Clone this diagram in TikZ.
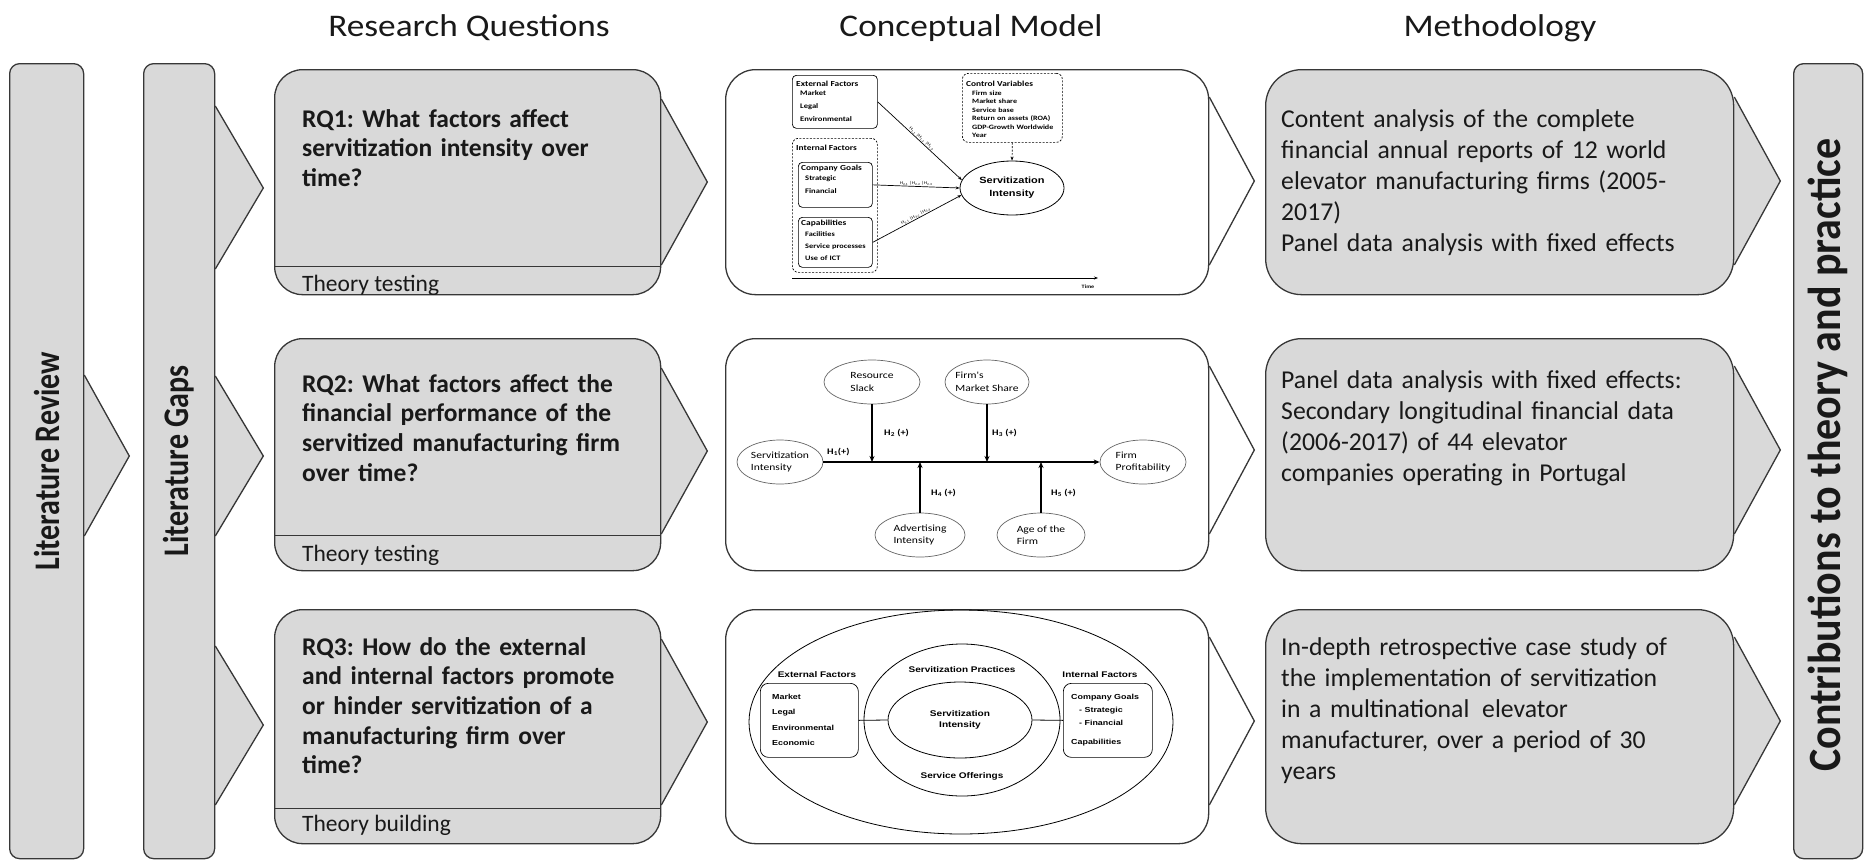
\documentclass[tikz,border=0pt]{standalone}
\usepackage{fontspec}
\usepackage{graphicx}
\setmainfont{Carlito}
\newfontfamily\calS[FakeStretch=1.22]{Carlito}
\newfontfamily\calH[FakeStretch=1.12]{Carlito}
\newfontfamily\calP{Carlito}
\newfontfamily\arS[FakeStretch=1.22]{Liberation Sans}
\usetikzlibrary{shapes.geometric,arrows.meta,calc,backgrounds}
\frenchspacing
\definecolor{boxgray}{RGB}{217,217,217}
\definecolor{edgec}{RGB}{55,55,55}
\definecolor{txt}{RGB}{25,25,25}
\newcommand\fHdr{\calH\fontsize{31.5}{36}\selectfont}
\newcommand\fRQ{\calP\bfseries\fontsize{25.5}{29.7}\selectfont}
\newcommand\fBody{\calP\fontsize{25.7}{31}\selectfont}
\newcommand\fTh{\calP\fontsize{23.5}{28}\selectfont}
\newcommand\fSide{\calP\bfseries\fontsize{30}{36}\selectfont}
\newcommand\fCon{\calP\bfseries\fontsize{42}{50}\selectfont}
\newcommand\fMt{\calS\bfseries\fontsize{7.7}{13}\selectfont}
\newcommand\fMi{\calS\bfseries\fontsize{7}{13}\selectfont}
\newcommand\fTt{\arS\bfseries\fontsize{8.2}{10}\selectfont}
\newcommand\fTi{\arS\bfseries\fontsize{7.3}{15.3}\selectfont}
\tikzset{
  bigbox/.style={draw=edgec, line width=1.3pt, inner sep=0pt, anchor=north west},
  graybox/.style={bigbox, fill=boxgray},
  whitebox/.style={bigbox, fill=white},
  chev/.style={draw=edgec, line width=1.3pt, fill=boxgray, line join=miter},
  wchev/.style={chev, fill=white},
  divline/.style={draw=edgec, line width=1.3pt},
  tx/.style={inner sep=0pt, text=txt},
  ml/.style={tx, anchor=base west, align=left},
  sbox/.style={draw=black, line width=0.7pt, rounded corners=4pt, inner sep=0pt, anchor=north west},
  dbox/.style={sbox, dash pattern=on 2pt off 1.5pt},
  sml/.style={inner sep=0pt, anchor=base west, align=left, text=black},
  sarr/.style={draw=black, line width=0.7pt, -{Stealth[length=4pt,width=3pt]}},
  thinl/.style={draw=black, line width=0.8pt},
  ell/.style={ellipse, draw=black, line width=0.8pt, inner sep=0pt},
  ell2/.style={ellipse, draw=black!60, line width=0.7pt, fill=white, inner xsep=-12pt, inner ysep=-3pt, minimum height=44pt, align=left, font=\calS\fontsize{9.5}{12.5}\selectfont},
  barr/.style={draw=black, line width=1.4pt, -{Stealth[length=6pt,width=5pt]}},
  hlab/.style={inner sep=0pt, anchor=west, font=\calS\bfseries\fontsize{8.5}{10}\selectfont},
  mlab/.style={inner sep=0.5pt, font=\calS\fontsize{4.3}{5}\selectfont},
}
\begin{document}
\begin{tikzpicture}[x=1pt,y=-1pt]
\useasboundingbox (0,0) rectangle (1865,862);
% ---------------- headers
\node[tx, anchor=base, font=\fHdr] (h1) at (469,36) {Research Questions};
\node[tx, anchor=base, font=\fHdr] (h2) at (971,36) {Conceptual Model};
\node[tx, anchor=base, font=\fHdr] (h3) at (1500,36) {Methodology};

% ---------------- tall side boxes
\node[graybox, rounded corners=10pt, minimum width=74pt, minimum height=795pt] (lr) at (9,63) {};
\node[graybox, rounded corners=10pt, minimum width=71pt, minimum height=795pt] (lg) at (143,63) {};
\node[graybox, rounded corners=10pt, minimum width=69pt, minimum height=795pt] (con) at (1793,63) {};
\node[tx, rotate=90, font=\fSide] (lrt) at (lr.center) {\scalebox{1}[1.2]{Literature Review}};
\node[tx, rotate=90, font=\fSide] (lgt) at (lg.center) {\scalebox{1}[1.2]{Literature Gaps}};
\node[tx, rotate=90, font=\fCon] (cont) at ($(con.center)+(0,-6)$) {\scalebox{1}[1.1]{Contributions to theory and practice}};

% ---------------- row boxes
\node[graybox, rounded corners=28pt, minimum width=386pt, minimum height=225pt] (rq1) at (274,69) {};
\node[graybox, rounded corners=28pt, minimum width=386pt, minimum height=232pt] (rq2) at (274,338) {};
\node[graybox, rounded corners=28pt, minimum width=386pt, minimum height=234pt] (rq3) at (274,609) {};
\node[whitebox, rounded corners=30pt, minimum width=483pt, minimum height=225pt] (mo1) at (725,69) {};
\node[whitebox, rounded corners=30pt, minimum width=483pt, minimum height=232pt] (mo2) at (725,338) {};
\node[whitebox, rounded corners=30pt, minimum width=483pt, minimum height=234pt] (mo3) at (725,609) {};
\node[graybox, rounded corners=36pt, minimum width=468pt, minimum height=225pt] (me1) at (1265,69) {};
\node[graybox, rounded corners=36pt, minimum width=468pt, minimum height=232pt] (me2) at (1265,338) {};
\node[graybox, rounded corners=36pt, minimum width=468pt, minimum height=234pt] (me3) at (1265,609) {};

% dividers in RQ boxes
\draw[divline] ($(rq1.south west)+(0,-29)$) -- ($(rq1.south east)+(0,-29)$);
\draw[divline] ($(rq2.south west)+(0,-36)$) -- ($(rq2.south east)+(0,-36)$);
\draw[divline] ($(rq3.south west)+(0,-36)$) -- ($(rq3.south east)+(0,-36)$);

% ---------------- chevrons
\begin{scope}[on background layer]
\filldraw[chev] ($(lr.north east)+(0,312)$) -- ($(lr.north east)+(45,393)$) -- ($(lr.north east)+(0,473)$);
\filldraw[chev] ($(lg.north east)+(0,43)$) -- ($(lg.north east)+(48,125)$) -- ($(lg.north east)+(0,206)$);
\filldraw[chev] ($(lg.north east)+(0,313)$) -- ($(lg.north east)+(48,393)$) -- ($(lg.north east)+(0,473)$);
\filldraw[chev] ($(lg.north east)+(0,583)$) -- ($(lg.north east)+(48,662)$) -- ($(lg.north east)+(0,742)$);
\foreach \n in {rq1,rq2,rq3}{
  \filldraw[chev] ($(\n.north east)+(0,30)$) -- ($(\n.north east)+(46,113)$) -- ($(\n.north east)+(0,196)$);
}
\foreach \n in {mo1,mo2,mo3}{
  \filldraw[wchev] ($(\n.north east)+(0,28)$) -- ($(\n.north east)+(45,112)$) -- ($(\n.north east)+(0,196)$);
}
\foreach \n in {me1,me2,me3}{
  \filldraw[chev] ($(\n.north east)+(0,28)$) -- ($(\n.north east)+(46,112)$) -- ($(\n.north east)+(0,196)$);
}
\end{scope}

% ---------------- RQ texts
\node[ml, text width=370pt, font=\fRQ] (rq1t) at (302,127) {RQ1: What factors affect\\servitization intensity over\\time?};
\node[ml, text width=370pt, font=\fRQ] (rq2t) at (302,392) {RQ2: What factors affect the\\financial performance of the\\servitized manufacturing firm\\over time?};
\node[ml, text width=370pt, font=\fRQ] (rq3t) at (302,655) {RQ3: How do the external\\and internal factors promote\\or hinder servitization of a\\manufacturing firm over\\time?};
\node[ml, font=\fTh] (rq1b) at (302,291) {Theory testing};
\node[ml, font=\fTh] (rq2b) at (302,561) {Theory testing};
\node[ml, font=\fTh] (rq3b) at (302,831) {Theory building};

% ---------------- Methodology texts
\node[ml, text width=450pt, font=\fBody] (me1t) at (1281,127) {Content analysis of the complete\\financial annual reports of 12 world\\elevator manufacturing firms (2005-\\2017)\\Panel data analysis with fixed effects};
\node[ml, text width=450pt, font=\fBody] (me2t) at (1281,388) {Panel data analysis with fixed effects:\\Secondary longitudinal financial data\\(2006-2017) of 44 elevator\\companies operating in Portugal};
\node[ml, text width=450pt, font=\fBody] (me3t) at (1281,655) {In-depth retrospective case study of\\the implementation of servitization\\in a multinational\, elevator\\manufacturer, over a period of 30\\years};

% ---------------- Conceptual model 1
\node[sbox, minimum width=85pt, minimum height=53pt] (ext1) at (792,75) {};
\node[dbox, rounded corners=6pt, minimum width=85pt, minimum height=134pt] (int1) at (792,138) {};
\node[sbox, minimum width=74pt, minimum height=45pt] (goal1) at (798,162) {};
\node[sbox, minimum width=74pt, minimum height=50pt] (cap1) at (798,217) {};
\node[dbox, rounded corners=6pt, minimum width=100pt, minimum height=69pt] (ctrl1) at (962,73) {};
\node[ell, minimum width=104pt, minimum height=54pt, align=center, font=\arS\bfseries\fontsize{9}{13}\selectfont] (si1) at (1012,188) {Servitization\\Intensity};

\node[sml, text width=80pt, font=\fMi] (ext1t) at (796,86.5) {{\fMt External Factors}\\[-4pt]\hspace*{4pt}Market\\\hspace*{4pt}Legal\\\hspace*{4pt}Environmental};
\node[sml, font=\fMt] (int1t) at (796,150.5) {Internal Factors};
\node[sml, text width=70pt, font=\fMi] (goal1t) at (801,170.5) {{\fMt Company Goals}\\[-3pt]\hspace*{4pt}Strategic\\\hspace*{4pt}Financial};
\node[sml, text width=70pt, font=\calS\bfseries\fontsize{6.8}{12}\selectfont] (cap1t) at (801,225.5) {{\fMt Capabilities}\\[-1pt]\hspace*{4pt}Facilities\\\hspace*{4pt}Service processes\\\hspace*{4pt}Use of ICT};
\node[sml, text width=96pt, font=\calS\bfseries\fontsize{6.6}{8.5}\selectfont] (ctrl1t) at (966,86.5) {{\fMt Control Variables}\\\hspace*{6pt}Firm size\\\hspace*{6pt}Market share\\\hspace*{6pt}Service base\\\hspace*{6pt}Return on assets (ROA)\\\hspace*{6pt}GDP-Growth Worldwide\\\hspace*{6pt}Year};

\draw[sarr] (ext1.east) -- node[mlab, sloped, above] {H\textsubscript{1.1} |H\textsubscript{1.2} |H\textsubscript{1.3}} (si1.171);
\draw[sarr] (goal1.east) -- node[mlab, above] {H\textsubscript{2.1} |H\textsubscript{2.2} |H\textsubscript{2.3}} (si1.180);
\draw[sarr] (cap1.east) -- node[mlab, sloped, above] {H\textsubscript{3.1} |H\textsubscript{3.2} |H\textsubscript{3.3}} (si1.188);
\draw[sarr, dash pattern=on 2pt off 1.5pt] (ctrl1.south) -- (si1.north);
\coordinate (t0) at (792,278);
\coordinate (t1) at (1098,278);
\draw[sarr] (t0) -- (t1);
\node[inner sep=0pt, font=\calS\bfseries\fontsize{5}{6}\selectfont] (time1) at (1088,287) {Time};

% ---------------- Conceptual model 2
\node[ell2, minimum width=86pt] (si2) at (780,462) {Servitization\\Intensity};
\node[ell2, minimum width=86pt] (fp2) at (1143,462) {Firm\\Profitability};
\node[ell2, minimum width=96pt] (rs2) at (872,382) {Resource\\Slack};
\node[ell2, minimum width=84pt] (ms2) at (987,382) {Firm's\\Market Share};
\node[ell2, minimum width=90pt] (ai2) at (920,535) {Advertising\\Intensity};
\node[ell2, minimum width=88pt] (af2) at (1041,535) {Age of the\\Firm};
\draw[barr] (si2.east) -- (fp2.west);
\draw[barr] (rs2.south) -- (rs2.south |- si2.east);
\draw[barr] (ms2.south) -- (ms2.south |- si2.east);
\draw[barr] (ai2.north) -- (ai2.north |- si2.east);
\draw[barr] (af2.north) -- (af2.north |- si2.east);
\node[hlab] (h21) at (827,452) {H\textsubscript{1}(+)};
\node[hlab] (h22) at (884,433) {H\textsubscript{2} (+)};
\node[hlab] (h23) at (992,433) {H\textsubscript{3} (+)};
\node[hlab] (h24) at (931,493) {H\textsubscript{4} (+)};
\node[hlab] (h25) at (1051,493) {H\textsubscript{5} (+)};

% ---------------- Conceptual model 3
\node[ell, minimum width=424pt, minimum height=224pt] (oe3) at (961,722) {};
\node[ell, minimum width=196pt, minimum height=152pt] (me3e) at (962,720) {};
\node[ell, minimum width=144pt, minimum height=76pt, align=center, font=\arS\bfseries\fontsize{8.3}{10.5}\selectfont] (ie3) at (960,720) {Servitization\\Intensity};
\node[sbox, rounded corners=8pt, minimum width=98pt, minimum height=74pt] (eb3) at (760,683) {};
\node[sbox, rounded corners=8pt, minimum width=89pt, minimum height=74pt] (ib3) at (1063,683) {};
\draw[thinl] (eb3.east) -- (ie3.west);
\draw[thinl] (ie3.east) -- (ib3.west);
\node[inner sep=0pt, font=\fTt] (sp3) at (962,670) {Servitization Practices};
\node[inner sep=0pt, font=\fTt] (so3) at (962,776) {Service Offerings};
\node[inner sep=0pt, font=\fTt] (ef3) at (817,675) {External Factors};
\node[inner sep=0pt, font=\fTt] (if3) at (1100,675) {Internal Factors};
\node[sml, text width=90pt, font=\fTi] (eb3t) at (772,699.5) {Market\\Legal\\Environmental\\Economic};
\node[sml, text width=85pt, font=\arS\bfseries\fontsize{7.3}{13}\selectfont] (ib3t) at (1071,699.5) {Company Goals\\\hspace*{8pt}- Strategic\\\hspace*{8pt}- Financial\\[6pt]Capabilities};
\end{tikzpicture}
\end{document}
